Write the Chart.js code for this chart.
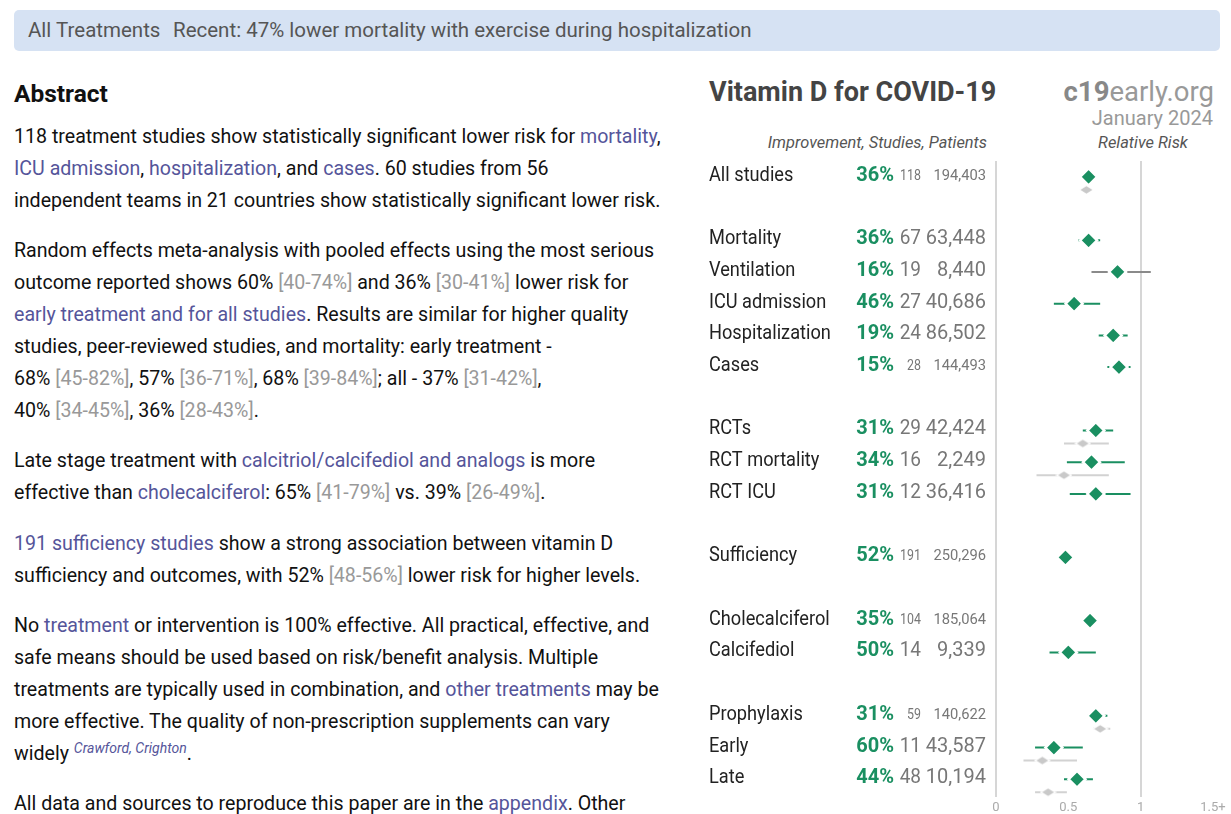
<!DOCTYPE html>
<html>
<head>
<meta charset="utf-8">
<script src="https://cdn.jsdelivr.net/npm/chart.js@4.4.1/dist/chart.umd.min.js"></script>
<style>
html, body { margin: 0; padding: 0; width: 1231px; height: 814px; overflow: hidden; background: #fff; font-family: Roboto, sans-serif; }
.topbar { position: absolute; left: 14px; top: 10px; width: 1206px; height: 41px; background: #d6e2f3; border-radius: 5px; color: #555; font-size: 20.5px; line-height: 41px; }
.topbar span { position: absolute; top: 0; white-space: nowrap; }
#abstract { position: absolute; left: 14px; top: 78px; color: #111; }
#abstract h2 { margin: 0 0 11px 0; font-size: 24.5px; font-weight: 700; line-height: 32px; }
#abstract p { margin: 0 0 18px 0; font-size: 19.6px; line-height: 32.05px; white-space: nowrap; }
#abstract a { color: #55559a; text-decoration: none; }
.ci { color: #999; }
.ref { font-size: 14px; font-style: italic; color: #55559a; position: relative; top: -7px; line-height: 0; }
#title { position: absolute; left: 709px; top: 78px; font-size: 27px; line-height: 28px; font-weight: 700; color: #444; white-space: nowrap; }
#brand { position: absolute; right: 17px; top: 78px; font-size: 27.5px; line-height: 28px; color: #999; white-space: nowrap; }
#brand b { color: #888; }
#date { position: absolute; right: 18px; top: 108px; font-size: 20px; line-height: 21px; color: #999; }
#colhead, #rrhead { position: absolute; top: 133px; font-size: 16.4px; line-height: 20px; font-style: italic; color: #555; white-space: nowrap; }
#colhead { right: 244px; }
#rrhead { left: 1143px; transform: translateX(-50%); }
#plot { position: absolute; left: 700px; top: 150px; width: 531px; height: 664px; }
</style>
</head>
<body>
<div class="topbar"><span style="left:14px">All Treatments</span><span style="left:159px">Recent: 47% lower mortality with exercise during hospitalization</span></div>

<div id="abstract">
<h2>Abstract</h2>
<p>118 treatment studies show statistically significant lower risk for <a>mortality</a>,<br><a>ICU admission</a>, <a>hospitalization</a>, and <a>cases</a>. 60 studies from 56<br>independent teams in 21 countries show statistically significant lower risk.</p>
<p>Random effects meta-analysis with pooled effects using the most serious<br>outcome reported shows 60% <span class="ci">[40-74%]</span> and 36% <span class="ci">[30-41%]</span> lower risk for<br><a>early treatment and for all studies</a>. Results are similar for higher quality<br>studies, peer-reviewed studies, and mortality: early treatment -<br>68% <span class="ci">[45-82%]</span>, 57% <span class="ci">[36-71%]</span>, 68% <span class="ci">[39-84%]</span>; all - 37% <span class="ci">[31-42%]</span>,<br>40% <span class="ci">[34-45%]</span>, 36% <span class="ci">[28-43%]</span>.</p>
<p>Late stage treatment with <a>calcitriol/calcifediol and analogs</a> is more<br>effective than <a>cholecalciferol</a>: 65% <span class="ci">[41-79%]</span> vs. 39% <span class="ci">[26-49%]</span>.</p>
<p><a>191 sufficiency studies</a> show a strong association between vitamin D<br>sufficiency and outcomes, with 52% <span class="ci">[48-56%]</span> lower risk for higher levels.</p>
<p>No <a>treatment</a> or intervention is 100% effective. All practical, effective, and<br>safe means should be used based on risk/benefit analysis. Multiple<br>treatments are typically used in combination, and <a>other treatments</a> may be<br>more effective. The quality of non-prescription supplements can vary<br>widely <span class="ref">Crawford, Crighton</span>.</p>
<p>All data and sources to reproduce this paper are in the <a>appendix</a>. Other</p>
</div>

<div id="title">Vitamin D for COVID-19</div>
<div id="brand"><b>c19</b>early.org</div>
<div id="date">January 2024</div>
<div id="colhead">Improvement, Studies, Patients</div>
<div id="rrhead">Relative Risk</div>
<div id="plot"><canvas id="forest"></canvas></div>

<script>
// rows, in groups (a blank row separates each group)
const groups = [
  ['All studies'],
  ['Mortality', 'Ventilation', 'ICU admission', 'Hospitalization', 'Cases'],
  ['RCTs', 'RCT mortality', 'RCT ICU'],
  ['Sufficiency'],
  ['Cholecalciferol', 'Calcifediol'],
  ['Prophylaxis', 'Early', 'Late']
];
const improvement = [36, 36, 16, 46, 19, 15, 31, 34, 31, 52, 35, 50, 31, 60, 44];
const studies = [118, 67, 19, 27, 24, 28, 29, 16, 12, 191, 104, 14, 59, 11, 48];
const patients = [194403, 63448, 8440, 40686, 86502, 144493, 42424, 2249, 36416, 250296, 185064, 9339, 140622, 43587, 10194];
const relRisk = [0.64, 0.64, 0.84, 0.54, 0.81, 0.85, 0.69, 0.66, 0.69, 0.48, 0.65, 0.50, 0.69, 0.40, 0.56];
const ciLow = [0.61, 0.57, 0.66, 0.40, 0.71, 0.77, 0.60, 0.49, 0.51, 0.44, 0.61, 0.37, 0.63, 0.27, 0.47];
const ciHigh = [0.67, 0.72, 1.07, 0.72, 0.91, 0.93, 0.81, 0.89, 0.93, 0.52, 0.70, 0.69, 0.77, 0.60, 0.67];
// grey secondary estimates shown under some rows
const altRisk = [0.625, null, null, null, null, null, 0.60, 0.47, null, null, null, null, 0.72, 0.32, 0.36];
const altLow = [0.60, null, null, null, null, null, 0.47, 0.28, null, null, null, null, 0.67, 0.19, 0.27];
const altHigh = [0.65, null, null, null, null, null, 0.78, 0.78, null, null, null, null, 0.79, 0.56, 0.49];
const xTicks = [0, 0.5, 1, 1.5];

const GREEN = '#1a8f61';

const labels = [];
const slots = [];
let s = 0;
groups.forEach((g, gi) => {
  if (gi > 0) s++;
  g.forEach(name => { labels.push(name); slots.push(s); s++; });
});
const lastSlot = s - 1;
const altShift = 0.41;

function ciLines(filter, lo, hi, shift) {
  const pts = [];
  labels.forEach((_, i) => {
    if (!filter(i)) return;
    pts.push({ x: lo[i], y: slots[i] + shift }, { x: hi[i], y: slots[i] + shift }, { x: hi[i], y: null });
  });
  return pts;
}

// flattened grey diamond with white halo
const altMark = document.createElement('canvas');
altMark.width = 17; altMark.height = 12;
(function () {
  const c = altMark.getContext('2d');
  const poly = (w, h, col) => {
    c.beginPath();
    c.moveTo(8.5 - w / 2, 6); c.lineTo(8.5, 6 - h / 2); c.lineTo(8.5 + w / 2, 6); c.lineTo(8.5, 6 + h / 2);
    c.closePath(); c.fillStyle = col; c.fill();
  };
  poly(17, 12, '#fff');
  poly(12, 7.5, '#c9c9c9');
})();

function squeezed(ctx, text, x, y, k) {
  ctx.save();
  ctx.translate(x, y);
  ctx.scale(k, 1);
  ctx.fillText(text, 0, 0);
  ctx.restore();
}

const rowText = {
  id: 'rowText',
  afterDraw(chart) {
    const ctx = chart.ctx;
    const y = chart.scales.y;
    ctx.save();
    ctx.textBaseline = 'middle';
    labels.forEach((name, i) => {
      const py = y.getPixelForValue(slots[i]) - 1;
      const big = patients[i] < 100000;
      ctx.textAlign = 'left';
      ctx.fillStyle = '#222';
      ctx.font = '20px Roboto';
      squeezed(ctx, name, 9, py, 0.91);
      ctx.textAlign = 'right';
      ctx.fillStyle = GREEN;
      ctx.font = 'bold 20px Roboto';
      ctx.fillText(improvement[i] + '%', 194, py);
      ctx.fillStyle = '#777';
      ctx.font = (big ? 20 : 15.5) + 'px Roboto';
      squeezed(ctx, String(studies[i]), 221, py, big ? 0.95 : 0.8);
      squeezed(ctx, patients[i].toLocaleString('en-US'), 286, py, big ? 1 : 0.95);
    });
    ctx.restore();
  }
};

new Chart(document.getElementById('forest'), {
  type: 'scatter',
  data: {
    datasets: [
      {
        data: labels.map((_, i) => ({ x: relRisk[i], y: slots[i] })),
        pointStyle: 'rectRot', pointRadius: 8.5, backgroundColor: GREEN,
        borderColor: '#fff', borderWidth: 2.5
      },
      {
        data: ciLines(i => ciHigh[i] < 1, ciLow, ciHigh, 0),
        showLine: true, borderColor: GREEN, borderWidth: 2, pointRadius: 0, spanGaps: false
      },
      {
        data: ciLines(i => ciHigh[i] >= 1, ciLow, ciHigh, 0),
        showLine: true, borderColor: '#8a8a8a', borderWidth: 2, pointRadius: 0, spanGaps: false
      },
      {
        data: labels.map((_, i) => altRisk[i] == null ? null : { x: altRisk[i], y: slots[i] + altShift }).filter(Boolean),
        pointStyle: altMark, pointRadius: 6
      },
      {
        data: ciLines(i => altRisk[i] != null, altLow, altHigh, altShift),
        showLine: true, borderColor: '#d2d2d2', borderWidth: 2, pointRadius: 0, spanGaps: false
      }
    ]
  },
  options: {
    responsive: true,
    maintainAspectRatio: false,
    animation: false,
    events: [],
    layout: { padding: { left: 296, right: 18, top: 8, bottom: 0 } },
    plugins: { legend: { display: false }, tooltip: { enabled: false } },
    scales: {
      x: {
        type: 'linear', min: 0, max: 1.5,
        afterBuildTicks: axis => { axis.ticks = xTicks.map(v => ({ value: v })); },
        afterFit: axis => { axis.height = 17; },
        ticks: {
          color: '#aaa', font: { family: 'Roboto', size: 13 }, padding: 3,
          callback: v => v === 1.5 ? '1.5+' : String(v)
        },
        grid: {
          drawTicks: false, lineWidth: 2,
          color: c => (c.tick && (c.tick.value === 0 || c.tick.value === 1)) ? '#d6d6d6' : 'rgba(0,0,0,0)'
        },
        border: { display: false }
      },
      y: { type: 'linear', reverse: true, min: -0.5, max: lastSlot + 0.56, display: false }
    }
  },
  plugins: [rowText]
});
</script>
</body>
</html>
